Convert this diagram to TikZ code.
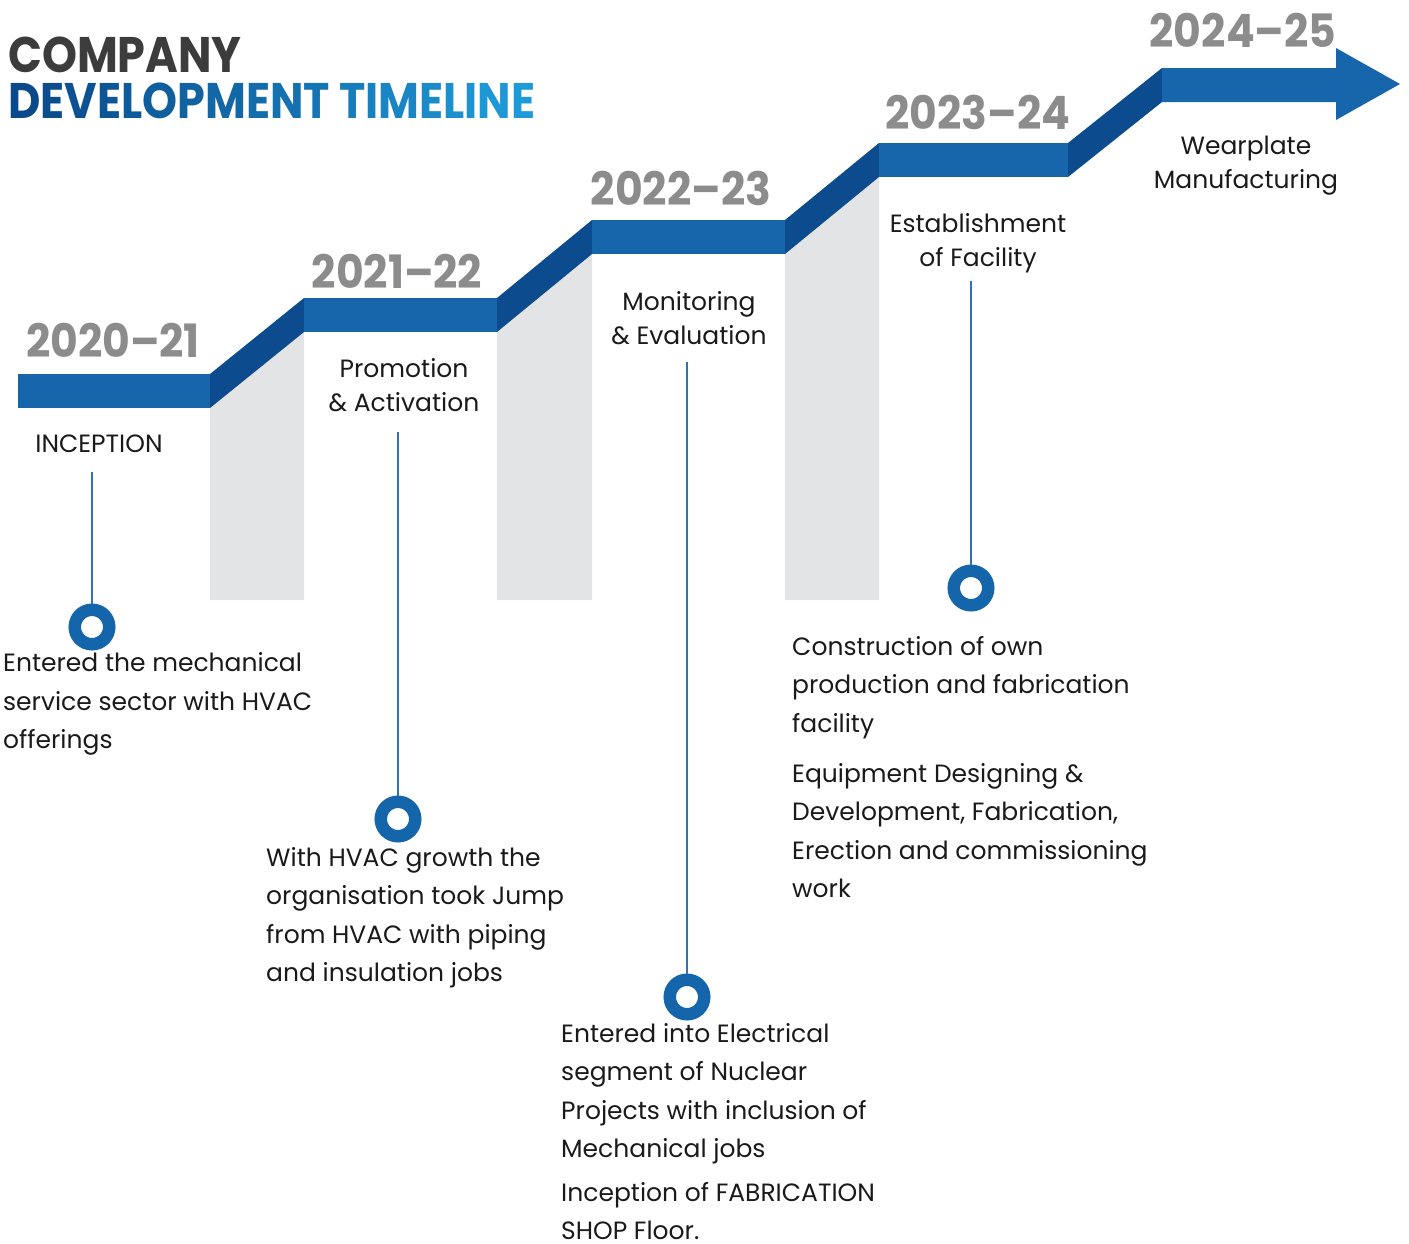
\documentclass[tikz,border=0pt]{standalone}
\usepackage{graphicx}
\usepackage{fontspec}
\setmainfont{Poppins}
\definecolor{barblue}{HTML}{1765AA}
\definecolor{diagblue}{HTML}{0C4B8E}
\definecolor{colgrey}{HTML}{E3E4E5}
\definecolor{yeargrey}{HTML}{8C8C8C}
\definecolor{titlegrey}{HTML}{3C3C3C}
\definecolor{lineblue}{HTML}{2E74B5}
\definecolor{ringblue}{HTML}{1565AB}
\definecolor{txt}{HTML}{1A1A1A}
\definecolor{tA}{HTML}{0A4A8A}
\definecolor{tB}{HTML}{1F9AD8}
\newcommand{\yr}[1]{\scalebox{0.925}[1]{#1}}
\newcommand{\ttx}[1]{\scalebox{0.89}[1]{#1}}
\begin{document}
\begin{tikzpicture}[x=1pt,y=-1pt,
 year/.style={font=\fontsize{46}{46}\selectfont\bfseries, text=yeargrey, inner sep=0},
 lab/.style={font=\fontsize{25}{34}\selectfont, text=txt, align=center, inner sep=0},
 body/.style={font=\fontsize{25}{38.5}\selectfont, text=txt, align=left, inner sep=0, anchor=north west},
 ring/.style={circle, draw=ringblue, line width=12.5pt, minimum size=34.5pt, inner sep=0, fill=white},
 conn/.style={draw=lineblue, line width=1.5pt},
 ttl/.style={font=\fontsize{50}{50}\selectfont\bfseries, inner sep=0, anchor=base west}]
\useasboundingbox (0,0) rectangle (1409,1243);
% grey columns
\fill[colgrey] (210,408) -- (304,332) -- (304,600) -- (210,600) -- cycle;
\fill[colgrey] (497,332) -- (592,254) -- (592,600) -- (497,600) -- cycle;
\fill[colgrey] (785,254) -- (879,177) -- (879,600) -- (785,600) -- cycle;
% diagonals
\fill[diagblue] (210,374) -- (304,298) -- (304,332) -- (210,408) -- cycle;
\fill[diagblue] (497,298) -- (592,220) -- (592,254) -- (497,332) -- cycle;
\fill[diagblue] (785,220) -- (879,143) -- (879,177) -- (785,254) -- cycle;
\fill[diagblue] (1068,143) -- (1162,68) -- (1162,102) -- (1068,177) -- cycle;
% bars
\fill[barblue] (18,374) rectangle (210,408);
\fill[barblue] (304,298) rectangle (497,332);
\fill[barblue] (592,220) rectangle (785,254);
\fill[barblue] (879,143) rectangle (1068,177);
\fill[barblue] (1162,68) -- (1336,68) -- (1336,48) -- (1400,84) -- (1336,120) -- (1336,102) -- (1162,102) -- cycle;
% title
\node[ttl, text=titlegrey] (t1) at (8,72) {\ttx{COMPANY}};
\node[ttl] (t2) at (8,118) {\ttx{{\color{tA}D}{\color{tB!5!tA}E}{\color{tB!10!tA}V}{\color{tB!15!tA}E}{\color{tB!20!tA}L}{\color{tB!25!tA}O}{\color{tB!30!tA}P}{\color{tB!36!tA}M}{\color{tB!42!tA}E}{\color{tB!48!tA}N}{\color{tB!54!tA}T} {\color{tB!62!tA}T}{\color{tB!68!tA}I}{\color{tB!74!tA}M}{\color{tB!80!tA}E}{\color{tB!86!tA}L}{\color{tB!91!tA}I}{\color{tB!96!tA}N}{\color{tB}E}}};
% years
\node[year] (y1) at (113,340) {\yr{2020–21}};
\node[year] (y2) at (397,271) {\yr{2021–22}};
\node[year] (y3) at (681,188) {\yr{2022–23}};
\node[year] (y4) at (978,112) {\yr{2023–24}};
\node[year] (y5) at (1243,30) {\yr{2024–25}};
% labels
\node[lab] (l1) at (99,444) {INCEPTION};
\node[lab] (l2) at (404,385) {Promotion\\\& Activation};
\node[lab] (l3) at (689,318) {Monitoring\\\& Evaluation};
\node[lab] (l4) at (978,243) {Establishment\\of Facility};
\node[lab] (l5) at (1246,166) {Wearplate\\Manufacturing};
% rings
\node[ring] (r1) at (92,627) {};
\node[ring] (r2) at (398,819) {};
\node[ring] (r3) at (687,997) {};
\node[ring] (r4) at (971,588) {};
% connectors
\coordinate (c1) at (92,472);
\coordinate (c2) at (398,432);
\coordinate (c3) at (687,362);
\coordinate (c4) at (971,281);
\draw[conn] (c1) -- (r1.north);
\draw[conn] (c2) -- (r2.north);
\draw[conn] (c3) -- (r3.north);
\draw[conn] (c4) -- (r4.north);
% body texts
\node[body] (b1) at (3,652.5) {Entered the mechanical\\service sector with HVAC\\offerings};
\node[body] (b2) at (266,847) {With HVAC growth the\\organisation took Jump\\from HVAC with piping\\and insulation jobs};
\node[body] (b3) at (561,1023) {Entered into Electrical\\segment of Nuclear\\Projects with inclusion of\\Mechanical jobs\\[5pt]Inception of FABRICATION\\SHOP Floor.};
\node[body] (b4) at (792,636) {Construction of own\\production and fabrication\\facility\\[11.5pt]Equipment Designing \&\\Development, Fabrication,\\Erection and commissioning\\work};
\end{tikzpicture}
\end{document}
